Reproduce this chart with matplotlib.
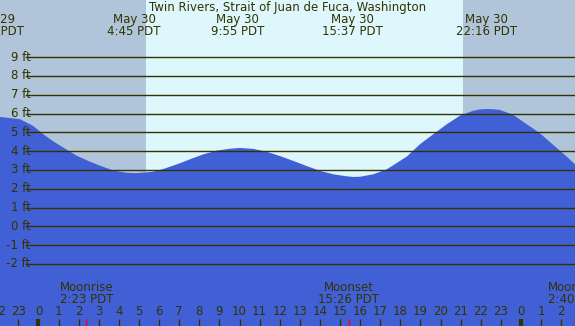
import matplotlib

matplotlib.use("Agg")
import matplotlib.pyplot as plt

# tide height (ft), time in hours from midnight May 30 (PDT)
tide_hours = [
    -1.92, -0.92, -0.26, 0.24, 0.74, 1.40, 1.90, 2.56, 3.06, 3.72, 4.39, 4.72, 5.05,
    5.71, 6.21, 7.04, 7.54, 8.20, 8.87, 9.53, 10.02, 10.69, 11.35, 12.01, 12.68,
    13.34, 14.00, 14.67, 15.33, 15.67, 16.00, 16.66, 17.32, 18.32, 18.98, 19.64, 20.31,
    20.97, 21.63, 21.97, 22.30, 22.63, 22.96, 23.62, 24.29, 24.95, 25.61, 26.28, 26.69,
]
tide_feet = [
    5.82, 5.70, 5.34, 4.90, 4.52, 4.08, 3.76, 3.44, 3.23, 2.97, 2.85, 2.83, 2.84,
    2.91, 3.05, 3.36, 3.57, 3.83, 4.03, 4.13, 4.17, 4.12, 3.97, 3.74, 3.48,
    3.21, 2.95, 2.77, 2.66, 2.63, 2.64, 2.77, 3.03, 3.71, 4.37, 4.90, 5.43,
    5.89, 6.15, 6.22, 6.24, 6.23, 6.19, 5.93, 5.43, 4.95, 4.33, 3.71, 3.30,
]

# high / low tide labels along the top
event_hours = [-2.25, 4.75, 9.917, 15.617, 22.267]
event_dates = ["May 29", "May 30", "May 30", "May 30", "May 30"]
event_times = ["21:45 PDT", "4:45 PDT", "9:55 PDT", "15:37 PDT", "22:16 PDT"]

sunrise = 5.35
sunset = 21.12

moon_hours = [2.383, 15.433, 26.667]
moon_names = ["Moonrise", "Moonset", "Moonrise"]
moon_times = ["2:23 PDT", "15:26 PDT", "2:40 PDT"]

feet_levels = list(range(-2, 10))
hour_ticks = list(range(-2, 27))

TITLE = "Twin Rivers, Strait of Juan de Fuca, Washington"

NIGHT = "#B0C4DA"
DAY = "#DDF7FD"
WATER = "#4160D6"
INK = "#333300"

X0, X1 = -1.915, 26.69
Y0, Y1 = -5.30, 12.04

fig = plt.figure(figsize=(5.75, 3.26), dpi=100)
ax = fig.add_axes([0, 0, 1, 1])
ax.set_xlim(X0, X1)
ax.set_ylim(Y0, Y1)
ax.axis("off")

ax.axvspan(X0, sunrise, color=NIGHT, lw=0, zorder=0)
ax.axvspan(sunrise, sunset, color=DAY, lw=0, zorder=0)
ax.axvspan(sunset, X1, color=NIGHT, lw=0, zorder=0)

ax.fill_between(tide_hours, Y0, tide_feet, color=WATER, lw=0, zorder=1)

for ft in feet_levels:
    ax.axhline(ft, xmin=26 / 575, xmax=1, color=INK, lw=1.0, zorder=2)
    ax.text(-0.39, ft, f"{ft} ft", ha="right", va="center", fontsize=8.5, color=INK, zorder=3)

ax.text(0.5, 1 - 7.3 / 326, TITLE, transform=ax.transAxes, ha="center", va="center",
        fontsize=8.5, color=INK)
xt = ax.get_xaxis_transform()
for h, d, t in zip(event_hours, event_dates, event_times):
    ax.text(h, 1 - 19.3 / 326, d, transform=xt, ha="center", va="center", fontsize=8.5, color=INK)
    ax.text(h, 1 - 31.5 / 326, t, transform=xt, ha="center", va="center", fontsize=8.5, color=INK)

for h in hour_ticks:
    ax.text(h, 1 - 311.7 / 326, str(h % 24), transform=xt, ha="center", va="center",
            fontsize=8.5, color=INK)
    width = 3.0 if h % 24 == 0 else 1.0
    ax.vlines(h, 0, 7 / 326, transform=xt, color=INK, lw=width, zorder=3)

for h, n, t in zip(moon_hours, moon_names, moon_times):
    ax.vlines(h, 0, 7 / 326, transform=xt, color="#FF0000", lw=1.0, zorder=4)
    ax.text(h, 1 - 287.3 / 326, n, transform=xt, ha="center", va="center", fontsize=8.5, color=INK)
    ax.text(h, 1 - 299.3 / 326, t, transform=xt, ha="center", va="center", fontsize=8.5, color=INK)

fig.savefig("out.png", dpi=100)
